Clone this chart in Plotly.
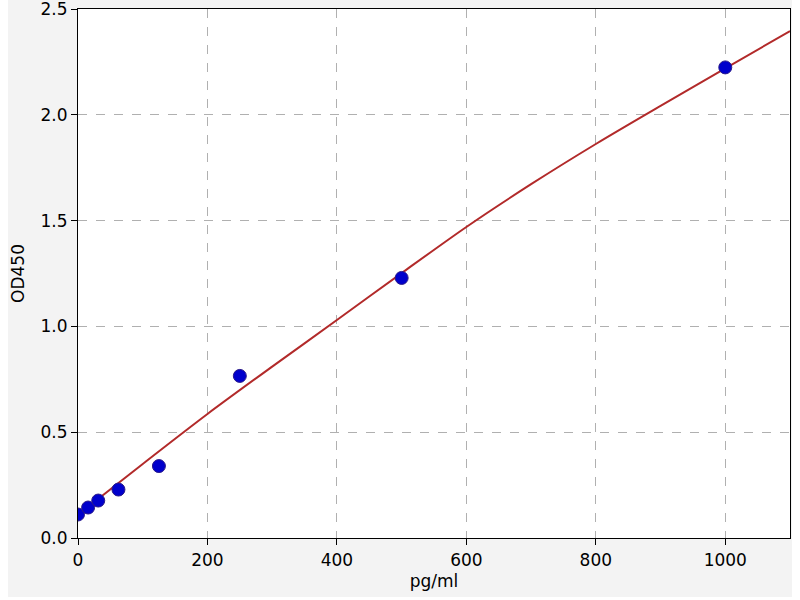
import plotly.graph_objects as go

# standard points
conc = [0, 15.6, 31.25, 62.5, 125, 250, 500, 1000]
od = [0.111, 0.144, 0.177, 0.229, 0.340, 0.766, 1.229, 2.224]

# fitted curve
curve_x = [0, 100, 200, 300, 400, 500, 600, 700, 800, 900, 1000, 1100]
curve_y = [0.11, 0.35, 0.586, 0.81, 1.03, 1.252, 1.47, 1.672, 1.862, 2.042, 2.219, 2.396]

x_ticks = [0, 200, 400, 600, 800, 1000]
y_ticks = [0.0, 0.5, 1.0, 1.5, 2.0, 2.5]

fig = go.Figure()
fig.add_trace(go.Scatter(
    x=curve_x, y=curve_y, mode="lines", name="fit",
    line=dict(color="#b22a2a", width=2, shape="spline", smoothing=0.8),
))
fig.add_trace(go.Scatter(
    x=conc, y=od, mode="markers", name="std",
    marker=dict(size=13, color="#0000cc", line=dict(color="#2a1a8a", width=1)),
))

font_txt = dict(family="DejaVu Sans", size=17, color="black")

axis_common = dict(
    showline=True, linecolor="black", linewidth=1.2, mirror=True,
    ticks="outside", ticklen=6, tickcolor="black",
    showgrid=True, gridcolor="#b0b0b0", griddash="dash", gridwidth=1,
    zeroline=False, automargin=False, ticklabeloverflow="allow",
    tickfont=font_txt,
)

fig.update_xaxes(
    range=[0, 1100], tickvals=x_ticks, ticktext=[str(v) for v in x_ticks],
    title=dict(text="pg/ml", font=font_txt, standoff=6),
    **axis_common
)
fig.update_yaxes(
    range=[0, 2.5], tickvals=y_ticks, ticktext=[f"{v:.1f}" for v in y_ticks],
    title=dict(text="OD450", font=font_txt, standoff=15),
    **axis_common
)

fig.update_layout(
    width=784, height=597,
    margin=dict(l=70, r=2, t=9, b=59),
    paper_bgcolor="#f3f3f3",
    plot_bgcolor="white",
    showlegend=False,
)

# page sits flush to the top, keeps the white strip on the left
fig.write_html("out.html", post_script="document.body.style.margin='0 0 0 8px';")
